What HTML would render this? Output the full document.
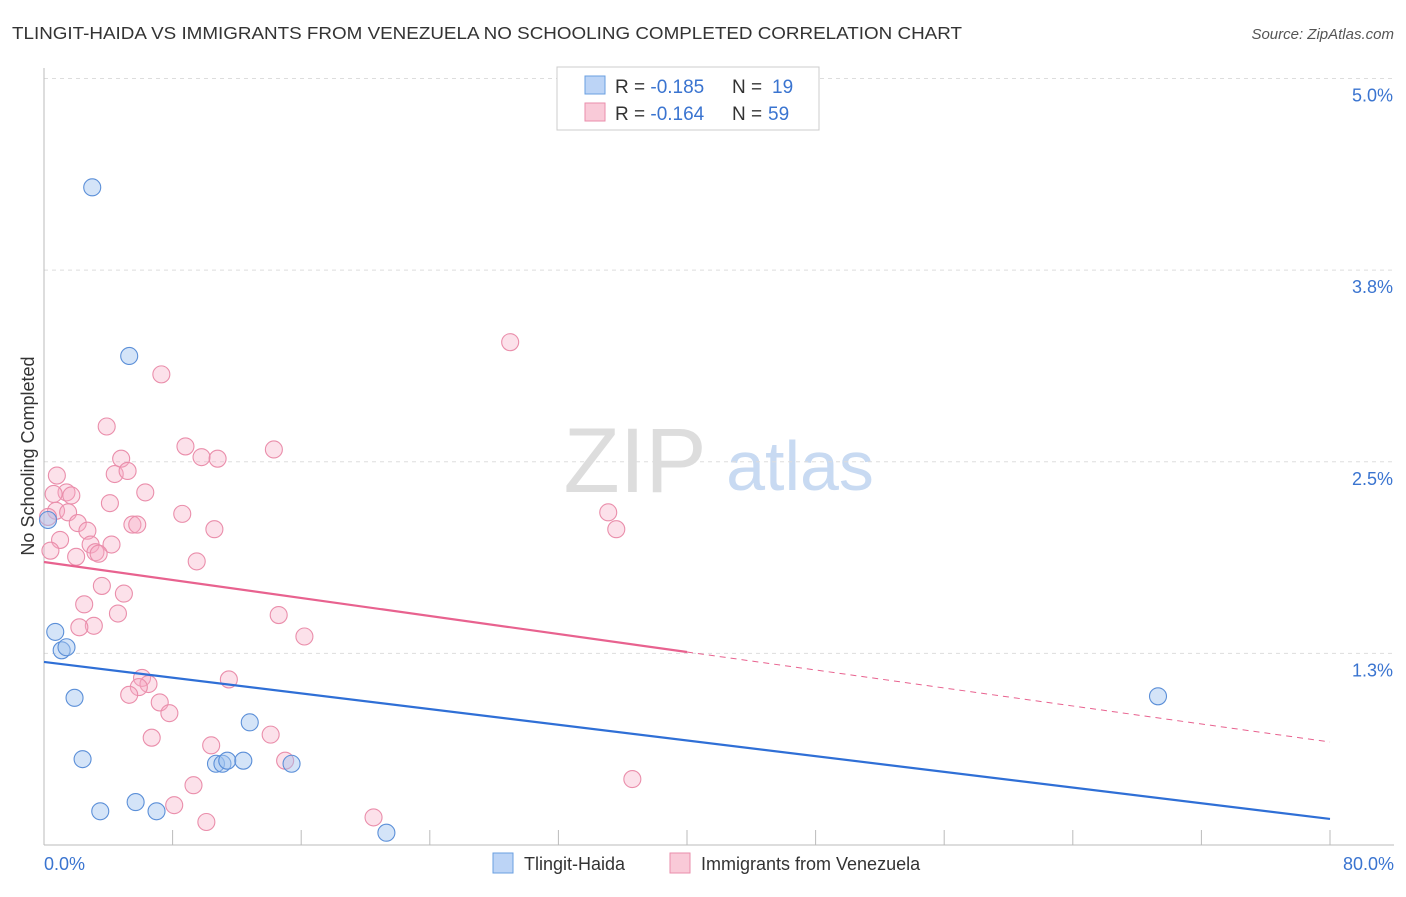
<!DOCTYPE html>
<html><head><meta charset="utf-8"><style>
body{margin:0;background:#fff;font-family:"Liberation Sans",sans-serif}
svg text{font-family:"Liberation Sans",sans-serif}
</style></head><body>
<svg id="chart" width="1406" height="892">
<text x="12" y="39" font-size="17.5" fill="#333" textLength="950" lengthAdjust="spacingAndGlyphs">TLINGIT-HAIDA VS IMMIGRANTS FROM VENEZUELA NO SCHOOLING COMPLETED CORRELATION CHART</text>
<text x="1394" y="39" font-size="15" fill="#555" font-style="italic" text-anchor="end">Source: ZipAtlas.com</text>
<text x="635" y="492" font-size="92" fill="#ddd" font-family="Liberation Serif" text-anchor="middle">ZIP</text>
<text x="800" y="490" font-size="70" fill="#c8daf2" text-anchor="middle">atlas</text>
<text transform="translate(34,456) rotate(-90)" font-size="18" fill="#333" text-anchor="middle">No Schooling Completed</text>
<g id="grid"></g><g id="axes"></g><g id="pts"></g><g id="lines"></g>
<g>
<rect x="557" y="67" width="262" height="63" fill="#fff" stroke="#ccc"/>
<rect x="585" y="76" width="20" height="18" fill="#bcd4f6" stroke="#6a9fe0"/>
<rect x="585" y="103" width="20" height="18" fill="#f9cad8" stroke="#ea8eab"/>
<text x="615" y="93" font-size="19" fill="#333">R = <tspan fill="#3a74d0">-0.185</tspan></text>
<text x="732" y="93" font-size="19" fill="#333">N = <tspan fill="#3a74d0" x="772">19</tspan></text>
<text x="615" y="120" font-size="19" fill="#333">R = <tspan fill="#3a74d0">-0.164</tspan></text>
<text x="732" y="120" font-size="19" fill="#333">N = <tspan fill="#3a74d0" x="768">59</tspan></text>
</g>
<g>
<rect x="493" y="853" width="20" height="20" fill="#bcd4f6" stroke="#6a9fe0"/>
<text x="524" y="870" font-size="18" fill="#333">Tlingit-Haida</text>
<rect x="670" y="853" width="20" height="20" fill="#f9cad8" stroke="#ea8eab"/>
<text x="701" y="870" font-size="18" fill="#333">Immigrants from Venezuela</text>
</g>
</svg>
<script>
const yTicks=[1.25,2.5,3.75,5.0];
const yTickLabels=["1.3%","2.5%","3.8%","5.0%"];
const xTicks=[0,8,16,24,32,40,48,56,64,72,80];
const blueX=[3.0,5.3,0.7,1.1,1.4,1.9,2.4,3.5,5.7,7.0,10.7,11.1,11.4,12.4,12.8,15.4,21.3,69.3,0.25];
const blueY=[4.29,3.19,1.39,1.27,1.29,0.96,0.56,0.22,0.28,0.22,0.53,0.53,0.55,0.55,0.80,0.53,0.08,0.97,2.12];
const pinkX=[29.0,7.3,3.9,8.8,14.3,9.8,10.8,4.8,0.8,4.4,5.2,6.3,1.4,1.7,4.1,0.75,1.5,8.6,0.25,2.1,5.5,5.8,10.6,2.7,1.0,2.9,4.2,3.2,3.4,2.0,0.4,9.5,35.1,35.6,3.6,4.97,2.5,4.6,14.6,3.1,2.2,16.2,6.1,11.5,6.5,5.9,5.3,7.2,7.8,6.7,10.4,14.1,15.0,9.3,8.1,10.1,20.5,36.6,0.6];
const pinkY=[3.28,3.07,2.73,2.60,2.58,2.53,2.52,2.52,2.41,2.42,2.44,2.30,2.30,2.28,2.23,2.18,2.17,2.16,2.14,2.10,2.09,2.09,2.06,2.05,1.99,1.96,1.96,1.91,1.90,1.88,1.92,1.85,2.17,2.06,1.69,1.64,1.57,1.51,1.50,1.43,1.42,1.36,1.09,1.08,1.05,1.03,0.98,0.93,0.86,0.70,0.65,0.72,0.55,0.39,0.26,0.15,0.18,0.43,2.29];
const blueFit=[1.194,0.17];
const pinkFit=[1.846,0.672];
const X=v=>44+v*16.075, Y=v=>845-v*153.3;
const ns="http://www.w3.org/2000/svg";
function mk(p,t,a){const e=document.createElementNS(ns,t);for(const k in a)e.setAttribute(k,a[k]);document.getElementById(p).appendChild(e);return e;}
yTicks.forEach((t,i)=>{
 const g=mk('grid','line',{x1:44,x2:1394,y1:Y(t),y2:Y(t),stroke:'#ddd','stroke-dasharray':'4,4'});
 
 
 const l=mk('axes','text',{x:1393,y:Y(t)+23,'font-size':18,fill:'#3a74d0','text-anchor':'end'});
 l.textContent=yTickLabels[i];
 
 
});
const ax=mk('axes','line',{x1:44,x2:1394,y1:845,y2:845,stroke:'#bbb'});


const ay=mk('axes','line',{x1:44,x2:44,y1:68,y2:845,stroke:'#bbb'});


xTicks.forEach(t=>{const e=mk('axes','line',{x1:X(t),x2:X(t),y1:830,y2:845,stroke:'#bbb'});
 
 });
[["0.0%",44,'start'],["80.0%",1394,'end']].forEach(d=>{const e=mk('axes','text',{x:d[1],y:870,'font-size':18,fill:'#3a74d0','text-anchor':d[2]});e.textContent=d[0];
 
 });
pinkX.forEach((x,i)=>{const c=mk('pts','circle',{cx:X(x),cy:Y(pinkY[i]),r:8.5,fill:'rgba(246,170,195,0.35)',stroke:'#ea8eab','stroke-width':1.1});
 
 });
blueX.forEach((x,i)=>{const c=mk('pts','circle',{cx:X(x),cy:Y(blueY[i]),r:8.5,fill:'rgba(160,195,240,0.45)',stroke:'#5b8fd8','stroke-width':1.1});
 
 });
const bl=mk('lines','line',{x1:X(0),y1:Y(blueFit[0]),x2:X(80),y2:Y(blueFit[1]),stroke:'#2f6fd6','stroke-width':2.2});


const pm=pinkFit[0]+(pinkFit[1]-pinkFit[0])*40/80;
const pl=mk('lines','line',{x1:X(0),y1:Y(pinkFit[0]),x2:X(40),y2:Y(pm),stroke:'#e8628f','stroke-width':2.2});


const pd=mk('lines','line',{x1:X(40),y1:Y(pm),x2:X(80),y2:Y(pinkFit[1]),stroke:'#e8628f','stroke-width':1,'stroke-dasharray':'6,5'});


</script>
</body></html>
